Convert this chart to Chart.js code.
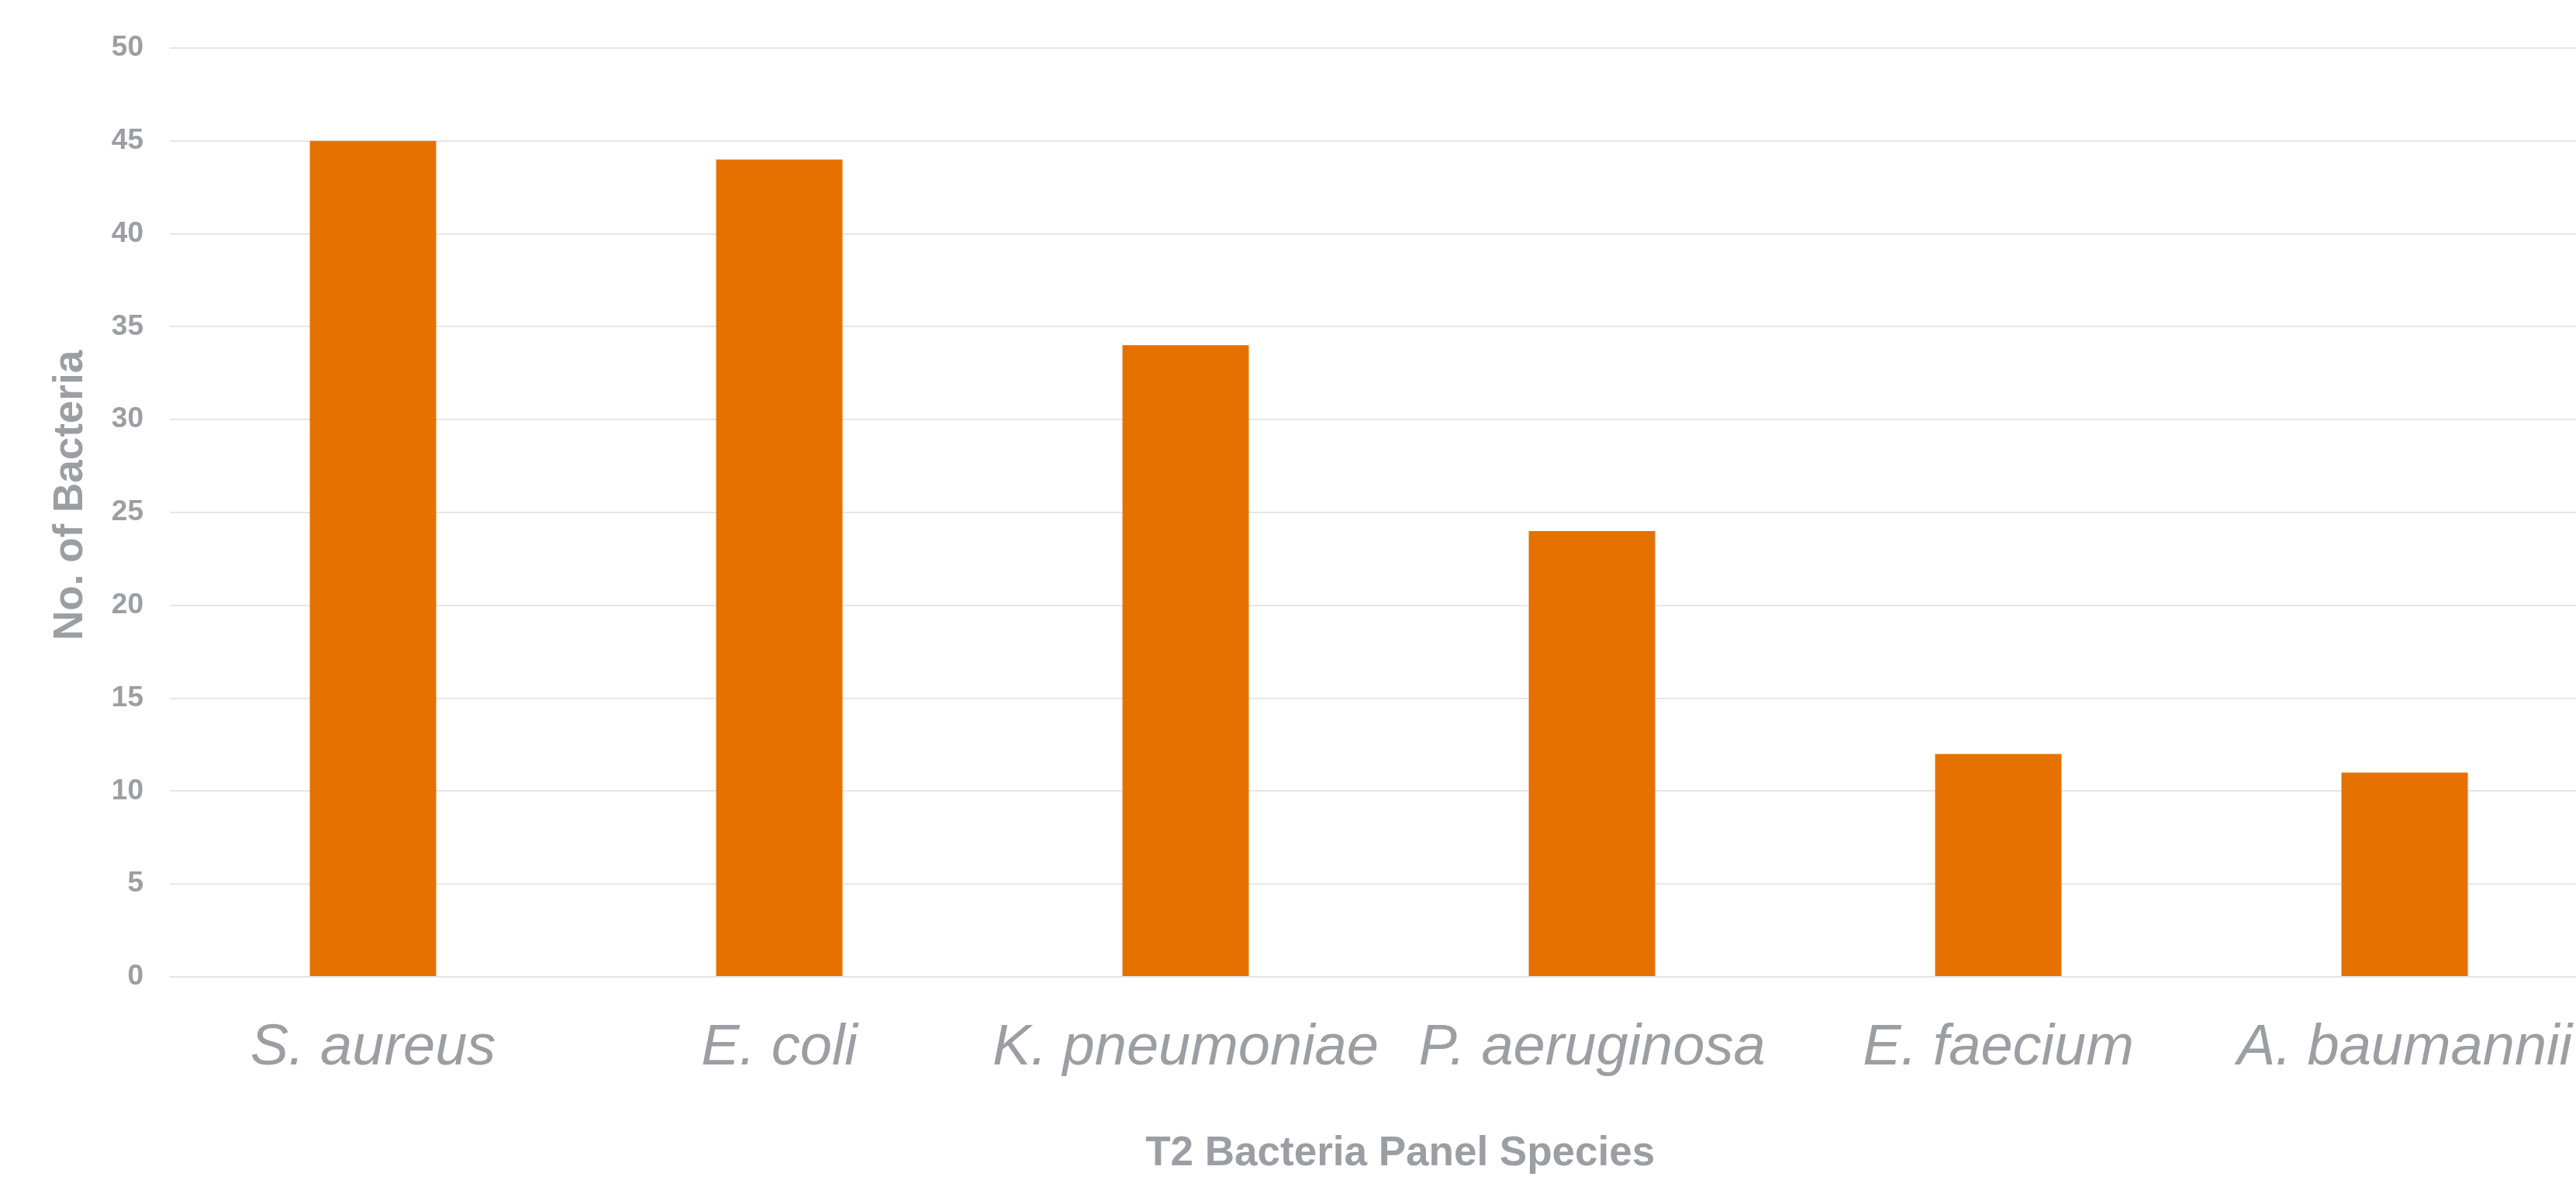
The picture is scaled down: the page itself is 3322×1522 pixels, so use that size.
<!DOCTYPE html>
<html>
<head>
<meta charset="utf-8">
<script src="https://cdn.jsdelivr.net/npm/chart.js@4/dist/chart.umd.min.js"></script>
<style>
  html, body { margin: 0; padding: 0; background: #ffffff; overflow: hidden; }
  #wrap { width: 3322px; height: 1522px; overflow: hidden; }
  canvas { display: block; }
</style>
</head>
<body>
<div id="wrap"><canvas id="chart" width="3364" height="1522"></canvas></div>
<script>
// Species on the T2 Bacteria Panel and how many were detected
const species = ['S. aureus', 'E. coli', 'K. pneumoniae', 'P. aeruginosa', 'E. faecium', 'A. baumannii'];
const counts = [45, 44, 34, 24, 12, 11];

// Value axis range
const yMin = 0;
const yMax = 50;
const yStep = 5;

const textGray = '#9b9ea2';
const gridGray = '#e6e6e6';
const barOrange = '#e57200';

new Chart(document.getElementById('chart'), {
  type: 'bar',
  data: {
    labels: species,
    datasets: [{
      label: 'No. of Bacteria',
      data: counts,
      backgroundColor: barOrange,
      borderWidth: 0,
      categoryPercentage: 1.0,
      barPercentage: 0.311
    }]
  },
  options: {
    responsive: false,
    animation: false,
    devicePixelRatio: 1,
    layout: { padding: { top: 62, right: 1, bottom: 0, left: 0 } },
    plugins: {
      legend: { display: false },
      tooltip: { enabled: false }
    },
    scales: {
      x: {
        grid: { display: false },
        border: { display: false },
        ticks: {
          color: textGray,
          padding: 40,
          maxRotation: 0,
          autoSkip: false,
          font: { family: '"Liberation Sans", Arial, sans-serif', size: 74, style: 'italic', weight: 'normal' }
        },
        title: {
          display: true,
          // leading spaces nudge the centred title a little to the right
          text: '  T2 Bacteria Panel Species',
          color: textGray,
          padding: { top: 0, bottom: 2 },
          font: { family: '"Liberation Sans", Arial, sans-serif', size: 53, weight: 'bold' }
        },
        afterFit: (scale) => { scale.height = 262; }
      },
      y: {
        min: yMin,
        max: yMax,
        grid: { color: gridGray, lineWidth: 2, drawTicks: false },
        border: { display: false },
        ticks: {
          stepSize: yStep,
          color: textGray,
          padding: 34,
          font: { family: '"Liberation Sans", Arial, sans-serif', size: 37, weight: 'bold' }
        },
        title: {
          display: true,
          // leading spaces lift the rotated title slightly above the axis centre
          text: '   No. of Bacteria',
          color: textGray,
          padding: { top: 60, bottom: 0 },
          font: { family: '"Liberation Sans", Arial, sans-serif', size: 53, weight: 'bold' }
        },
        afterFit: (scale) => { scale.width = 219; }
      }
    }
  }
});
</script>
</body>
</html>
